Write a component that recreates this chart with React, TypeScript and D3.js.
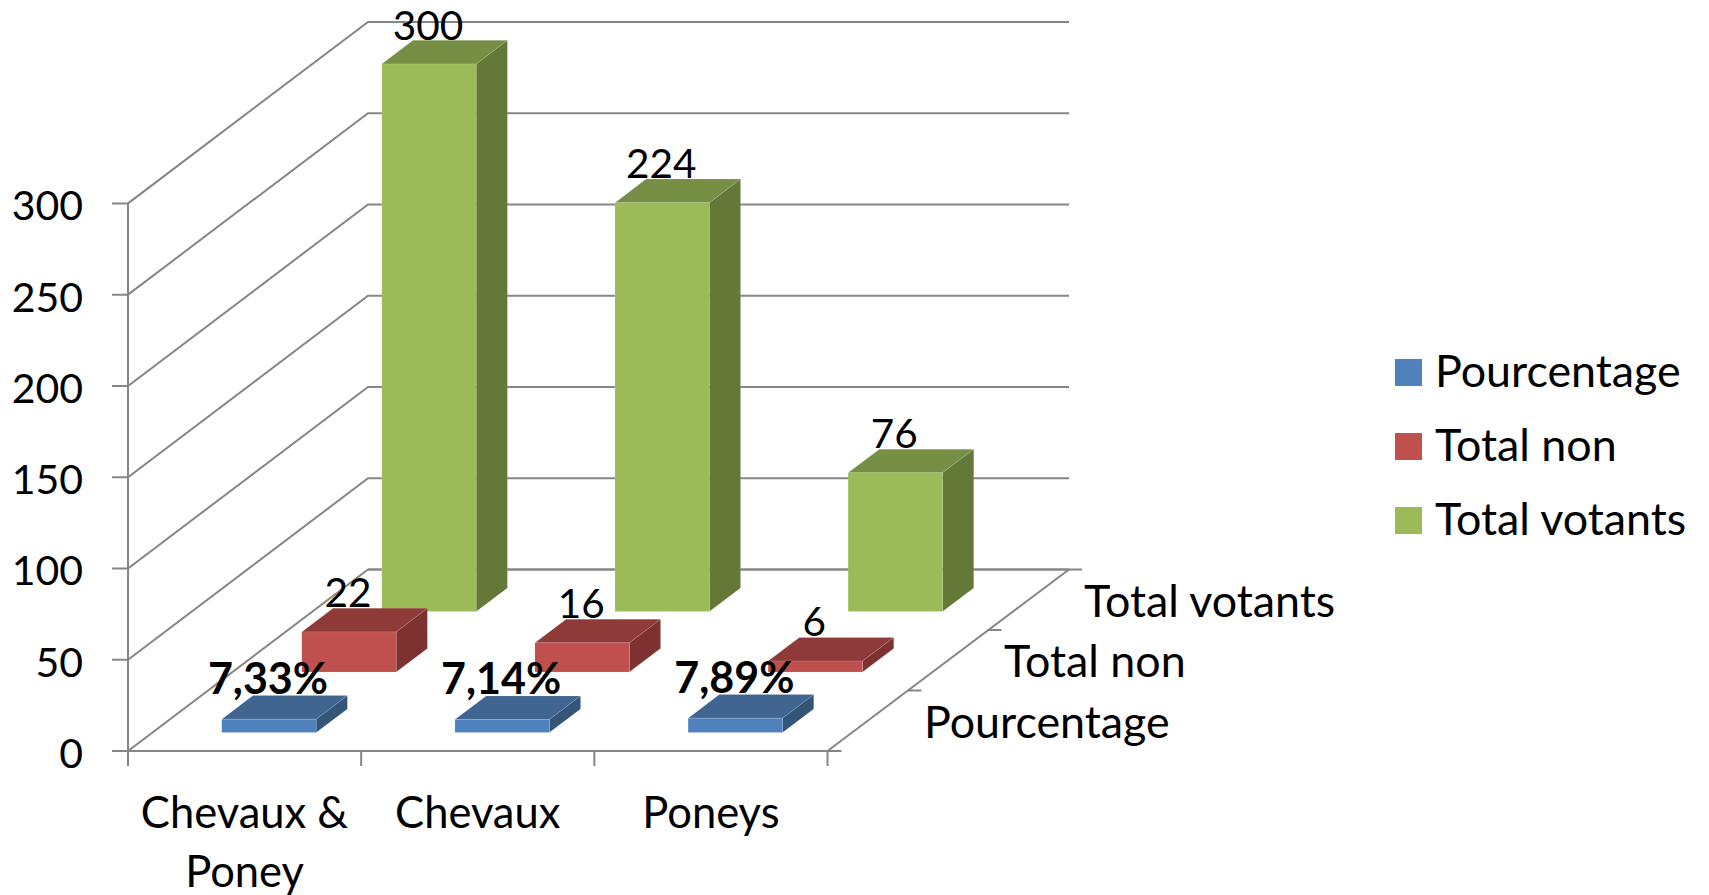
import React from 'react';
import * as d3 from 'd3';

const categories = ['Chevaux & Poney', 'Chevaux', 'Poneys'];
const seriesNames = ['Pourcentage', 'Total non', 'Total votants'];
const pourcentage = [7.33, 7.14, 7.89];
const totalNon = [22, 16, 6];
const totalVotants = [300, 224, 76];
const yTicks = [0, 50, 100, 150, 200, 250, 300];
const categoryLines = [['Chevaux &', 'Poney'], ['Chevaux'], ['Poneys']];

const seriesValues = [pourcentage, totalNon, totalVotants];
const faceColors = [
  { front: '#4f81bd', top: '#3f6590', side: '#345478' },
  { front: '#c0504d', top: '#8e3a38', side: '#7d3230' },
  { front: '#9bbb59', top: '#778f45', side: '#647838' },
];

const WIDTH = 1709;
const HEIGHT = 895;
const FONT = 'Lato, "Open Sans", sans-serif';
const AXIS = '#868686';

// front plane of the box
const x = d3.scaleBand<string>().domain(categories).range([128, 827.5]);
const y = d3.scaleLinear().domain([0, 300]).range([751, 203.4]);
// depth goes 0..1 from the front edge to the back wall
const depth = d3.scaleBand<string>().domain(seriesNames).range([0, 1]);
const depthX = d3.scaleLinear().domain([0, 1]).range([0, 240]);
const depthY = d3.scaleLinear().domain([0, 1]).range([0, 181.5]);

const barWidth = x.bandwidth() * 0.405;
const barDepth = depth.bandwidth() * 0.39;

const project = (px: number, d: number, value: number): [number, number] => [
  px + depthX(d),
  y(value) - depthY(d),
];

const poly = (pts: [number, number][]) => d3.line()(pts) + 'Z';

const formatLabel = (s: number, v: number) =>
  s === 0 ? v.toFixed(2).replace('.', ',') + '%' : String(v);

export default function App() {
  const left = x.range()[0];
  const right = x.range()[1];

  const bars = d3.range(seriesNames.length).reverse().map((s) => {
    const d0 = depth(seriesNames[s])! + (depth.bandwidth() - barDepth) / 2;
    const d1 = d0 + barDepth;
    return categories.map((c, i) => {
      const v = seriesValues[s][i];
      const x0 = x(c)! + (x.bandwidth() - barWidth) / 2;
      const x1 = x0 + barWidth;
      const colors = faceColors[s];
      return (
        <g key={c} stroke="#ffffff" strokeOpacity={0.12} strokeWidth={1}>
          <path fill={colors.top} d={poly([project(x0, d0, v), project(x1, d0, v), project(x1, d1, v), project(x0, d1, v)])} />
          <path fill={colors.side} d={poly([project(x1, d0, v), project(x1, d1, v), project(x1, d1, 0), project(x1, d0, 0)])} />
          <path fill={colors.front} d={poly([project(x0, d0, v), project(x1, d0, v), project(x1, d0, 0), project(x0, d0, 0)])} />
        </g>
      );
    });
  });

  const labels = d3.range(seriesNames.length).map((s) => {
    const d0 = depth(seriesNames[s])! + (depth.bandwidth() - barDepth) / 2;
    const d1 = d0 + barDepth;
    return categories.map((c, i) => {
      const v = seriesValues[s][i];
      const cx = x(c)! + x.bandwidth() / 2;
      const top = project(cx, d1, v);
      return (
        <text
          key={c}
          x={cx + depthX(d0) - 1}
          y={Math.max(top[1] - 1.5, 40)}
          textAnchor="middle"
          fontWeight={s === 0 ? 700 : 400}
          fontSize={s === 0 ? 43 : 40.5}
        >
          {formatLabel(s, v)}
        </text>
      );
    });
  });

  const [backX0, floorBack] = project(left, 1, 0);
  const backX1 = project(right, 1, 0)[0] + 1.5;

  return (
    <svg
      width={WIDTH}
      height={HEIGHT}
      style={{ position: 'fixed', left: 0, top: 0, display: 'block', background: '#fff' }}
      fontFamily={FONT}
      fontSize={41}
      fill="#000"
    >
      {/* walls */}
      <g stroke={AXIS} strokeWidth={2} fill="none">
        {yTicks.map((t) => {
          const back = project(left, 1, t);
          return (
            <path key={t} d={d3.line()([[left - 16, y(t)], [left, y(t)], back, [backX1, back[1]]])!} />
          );
        })}
        <path d={d3.line()([[left, y(300)], [left, y(0) + 15]])!} />
        <path d={d3.line()([[left, y(0)], [right + 14, y(0)]])!} />
        <path d={d3.line()([[backX0, floorBack], [backX1 + 13, floorBack]])!} />
        <path d={d3.line()([project(right, 0, 0), [backX1, floorBack]])!} />
        {x.domain().slice(1).map((c) => (
          <path key={c} d={d3.line()([[x(c)!, y(0)], [x(c)!, y(0) + 15]])!} />
        ))}
        <path d={d3.line()([[right, y(0)], [right, y(0) + 15]])!} />
        {seriesNames.slice(1).map((n) => {
          const p = project(right, depth(n)!, 0);
          return <path key={n} d={d3.line()([p, [p[0] + 14, p[1]]])!} />;
        })}
      </g>

      {bars}
      {labels}

      {/* value axis */}
      <g textAnchor="end">
        {yTicks.map((t) => (
          <text key={t} x={83} y={y(t) + 17}>{t}</text>
        ))}
      </g>

      {/* category axis */}
      <g textAnchor="middle" fontSize={43.5}>
        {categories.map((c, i) => (
          <text key={c} x={x(c)! + x.bandwidth() / 2} y={827.5}>
            {categoryLines[i].map((line, k) => (
              <tspan key={line} x={x(c)! + x.bandwidth() / 2} dy={k === 0 ? 0 : 59}>{line}</tspan>
            ))}
          </text>
        ))}
      </g>

      {/* depth axis */}
      <g fontSize={44.8}>
        {seriesNames.map((n) => {
          const p = project(right, depth(n)! + depth.bandwidth() / 2, 0);
          return <text key={n} x={p[0] + 56.5} y={p[1] + 17}>{n}</text>;
        })}
      </g>

      {/* legend */}
      <g fontSize={44.8}>
        {seriesNames.map((n, i) => (
          <g key={n} transform={`translate(1395,${359 + i * 74})`}>
            <rect width={27} height={27} fill={faceColors[i].front} />
            <text x={40} y={28}>{n}</text>
          </g>
        ))}
      </g>
    </svg>
  );
}
